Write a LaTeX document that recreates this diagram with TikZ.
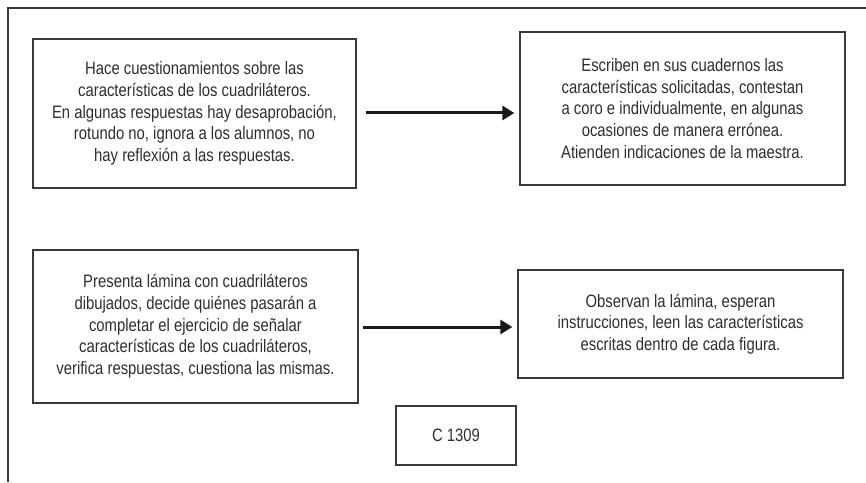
\documentclass[tikz,border=0pt]{standalone}
\usepackage{fontspec}
\setmainfont[FakeStretch=0.825]{Liberation Sans}
\usetikzlibrary{arrows.meta}
\definecolor{txt}{HTML}{2E2E2E}
\definecolor{edge}{HTML}{3A3A3A}
\begin{document}
\begin{tikzpicture}[x=1pt,y=1pt,
  box/.style={draw=edge,line width=1.3pt,align=center,inner sep=0pt,
    text=txt,font=\fontsize{18}{21.7}\selectfont},
  arr/.style={line width=3pt,draw=black!90,-{Triangle[length=12pt,width=14pt]}}]
\useasboundingbox (0,0) rectangle (866,482);
\draw[edge,line width=1.3pt] (8,0) -- (8,474) -- (866,474);
\node[box,minimum width=323pt,minimum height=149pt] (b1) at (194.5,368.5)
 {Hace cuestionamientos sobre las\\características de los cuadriláteros.\\En algunas respuestas hay desaprobación,\\rotundo no, ignora a los alumnos, no\\hay reflexión a las respuestas.};
\node[box,minimum width=325pt,minimum height=153pt] (b2) at (682.5,373.5)
 {Escriben en sus cuadernos las\\características solicitadas, contestan\\a coro e individualmente, en algunas\\ocasiones de manera errónea.\\Atienden indicaciones de la maestra.};
\node[box,minimum width=325pt,minimum height=153pt] (b3) at (195.5,155.5)
 {Presenta lámina con cuadriláteros\\dibujados, decide quiénes pasarán a\\completar el ejercicio de señalar\\características de los cuadriláteros,\\verifica respuestas, cuestiona las mismas.};
\node[box,minimum width=325pt,minimum height=108pt] (b4) at (680.5,158)
 {Observan la lámina, esperan\\instrucciones, leen las características\\escritas dentro de cada figura.};
\node[box,minimum width=120pt,minimum height=59pt] (c) at (456,46.5) {C 1309};
\draw[arr] ([shift={(9pt,0.5pt)}]b1.east) -- ([shift={(-5pt,-4.5pt)}]b2.west);
\draw[arr] ([shift={(4pt,-0.5pt)}]b3.east) -- ([shift={(-5pt,-3pt)}]b4.west);
\end{tikzpicture}
\end{document}
